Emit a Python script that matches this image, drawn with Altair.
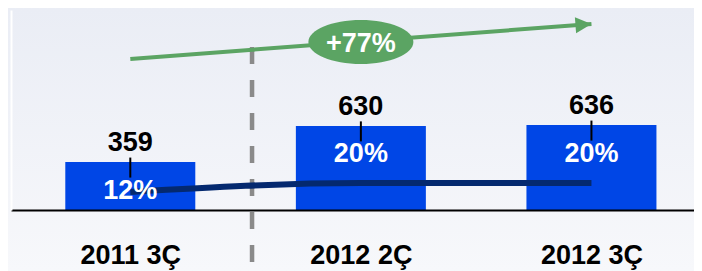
import altair as alt
import pandas as pd

# ---- data ----
categories = ["2011 3Ç", "2012 2Ç", "2012 3Ç"]
cat_index = [0, 1, 2]
revenue = [359, 630, 636]
margin_pct = [12, 20, 20]
pct_labels = ["12%", "20%", "20%"]
growth_label = ["+77%"]

# annotation anchors (data units)
arrow_x = [0, 2]
arrow_v = [1131, 1393]
badge_x = [1]
badge_v = [1258]
divider_x = [0.528]
divider_top = [1221]
divider_bottom = [-457]

XDOM = [-0.4957, 2.4231]
YDOM = [0, 1498]
PDOM = [-4, 173.8]

FONT = "Liberation Sans"
BLUE = "#0046E6"
NAVY = "#04296F"
GREEN = "#5BA463"
GRAY = "#8A8A8A"

df = pd.DataFrame({"i": cat_index, "cat": categories, "v": revenue,
                   "p": margin_pct, "pl": pct_labels})
arrow_df = pd.DataFrame({"i": arrow_x, "v": arrow_v})
head_df = pd.DataFrame({"i": arrow_x[-1:], "v": arrow_v[-1:]})
badge_df = pd.DataFrame({"i": badge_x, "v": badge_v, "t": growth_label})
div_df = pd.DataFrame({"i": divider_x, "v": divider_top, "v2": divider_bottom})
bg_df = pd.DataFrame({"a": [0]})

label_expr = "[" + ",".join("'" + c + "'" for c in categories) + "][datum.value]"
x_axis = alt.Axis(values=cat_index, labelExpr=label_expr, ticks=False, grid=False,
                  domainColor="black", domainWidth=2, labelFont=FONT,
                  labelFontSize=27, labelFontWeight="bold", labelColor="black",
                  labelPadding=32, title=None, zindex=1)


def X(field="i"):
    return alt.X(f"{field}:Q", scale=alt.Scale(domain=XDOM, nice=False, zero=False), axis=x_axis)


def Y(field="v", axis=None):
    return alt.Y(f"{field}:Q", scale=alt.Scale(domain=YDOM, nice=False, zero=False), axis=axis)


y_axis = alt.Axis(labels=False, ticks=False, grid=False, domainColor="white",
                  domainWidth=2, title=None, zindex=1)

bg = alt.Chart(bg_df).mark_rect(
    color=alt.Gradient(gradient="linear",
                       stops=[alt.GradientStop(color="#EAEDF5", offset=0),
                              alt.GradientStop(color="#F7F8FB", offset=1)],
                       x1=0, x2=0, y1=0, y2=1)
).encode(x=alt.value(-3), x2=alt.value(683), y=alt.value(-2), y2=alt.value(261))

divider = alt.Chart(div_df).mark_rule(
    color=GRAY, strokeWidth=4.5, strokeDash=[17, 16]
).encode(x=X(), y=Y(), y2="v2:Q")

arrow = alt.Chart(arrow_df).mark_line(color=GREEN, strokeWidth=4).encode(x=X(), y=Y())

head = alt.Chart(head_df).mark_point(
    shape="M-2,-1L0,0L-2,1Z", size=256, filled=True, color=GREEN, opacity=1,
    angle=355.7
).encode(x=X(), y=Y())

ellipse_path = ("M-1,0C-1,-0.2314,-0.5523,-0.419,0,-0.419"
                "C0.5523,-0.419,1,-0.2314,1,0"
                "C1,0.2314,0.5523,0.419,0,0.419"
                "C-0.5523,0.419,-1,0.2314,-1,0Z")
badge = alt.Chart(badge_df).mark_point(
    shape=ellipse_path, size=11025, filled=True, color=GREEN, opacity=1
).encode(x=X(), y=Y())

badge_text = alt.Chart(badge_df).mark_text(
    font=FONT, fontSize=27, fontWeight="bold", color="white", baseline="middle", dy=2
).encode(x=X(), y=Y(), text="t:N")

bars = alt.Chart(df).mark_bar(size=130, color=BLUE).encode(x=X(), y=Y(axis=y_axis))

line = alt.Chart(df).mark_line(color=NAVY, strokeWidth=6, interpolate="monotone").encode(
    x=X(), y=alt.Y("p:Q", scale=alt.Scale(domain=PDOM, nice=False, zero=False), axis=None))

ticks = alt.Chart(df).mark_tick(orient="vertical", size=20, thickness=2, color="black",
                                yOffset=5.5, opacity=1).encode(x=X(), y=Y())

val_text = alt.Chart(df).mark_text(
    font=FONT, fontSize=27, fontWeight="bold", color="black", baseline="middle", dy=-19
).encode(x=X(), y=Y(), text="v:Q")

pct_text = alt.Chart(df).mark_text(
    font=FONT, fontSize=27, fontWeight="bold", color="white", baseline="middle", dy=28.5
).encode(x=X(), y=Y(), text="pl:N")

chart = alt.layer(
    bg, divider, arrow, head, badge, badge_text, bars, line, ticks, val_text, pct_text
).resolve_scale(y="independent").properties(
    width=683, height=200,
    padding={"left": 3, "top": 2, "right": 0, "bottom": 61},
    autosize=alt.AutoSizeParams(type="none"),
).configure_view(stroke=None)

chart.save("out.html", embed_options={"renderer": "svg", "actions": False})
